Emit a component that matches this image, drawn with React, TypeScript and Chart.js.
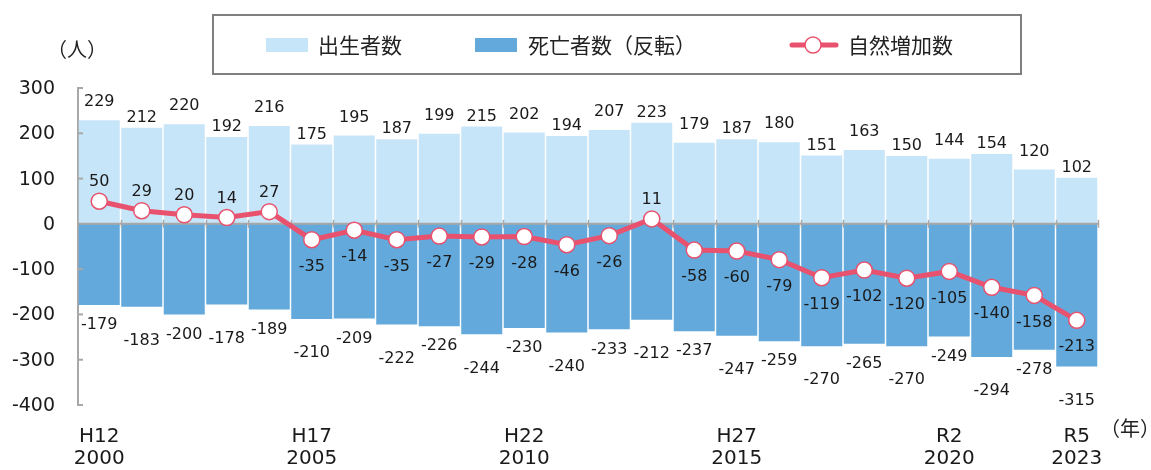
import React, { useEffect, useRef } from "react";
import { Chart, registerables } from "chart.js";

Chart.register(...registerables);

const years = [
  2000, 2001, 2002, 2003, 2004, 2005, 2006, 2007, 2008, 2009, 2010, 2011,
  2012, 2013, 2014, 2015, 2016, 2017, 2018, 2019, 2020, 2021, 2022, 2023,
];
const eraLabels: Record<number, string> = {
  2000: "H12",
  2005: "H17",
  2010: "H22",
  2015: "H27",
  2020: "R2",
  2023: "R5",
};
const births = [
  229, 212, 220, 192, 216, 175, 195, 187, 199, 215, 202, 194, 207, 223, 179,
  187, 180, 151, 163, 150, 144, 154, 120, 102,
];
const deaths = [
  -179, -183, -200, -178, -189, -210, -209, -222, -226, -244, -230, -240, -233,
  -212, -237, -247, -259, -270, -265, -270, -249, -294, -278, -315,
];
const natural = [
  50, 29, 20, 14, 27, -35, -14, -35, -27, -29, -28, -46, -26, 11, -58, -60,
  -79, -119, -102, -120, -105, -140, -158, -213,
];
const legendNames = ["出生者数", "死亡者数（反転）", "自然増加数"];
const unitY = "（人）";
const unitX = "（年）";

const FONT_CJK = '"Noto Sans CJK JP", "Noto Sans", sans-serif';
const FONT_NUM = '"DejaVu Sans", "Noto Sans CJK JP", sans-serif';
const C_BIRTH = "#C7E5F8";
const C_DEATH = "#63A9DC";
const C_LINE = "#E8526E";
const C_AXIS = "#A8A8A8";
const C_TEXT = "#1a1a1a";

const xLabels = years.map((y) => (eraLabels[y] ? [eraLabels[y], String(y)] : ""));

const decorPlugin = {
  id: "decor",
  beforeDatasetDraw(chart: any, args: any) {
    if (args.index !== 2) return;
    const { ctx, chartArea } = chart;
    const y = chart.scales.y;
    ctx.save();
    ctx.strokeStyle = C_AXIS;
    ctx.lineWidth = 2;
    const y0 = y.getPixelForValue(0);
    ctx.beginPath();
    ctx.moveTo(chartArea.left, y0);
    ctx.lineTo(chartArea.right + 1, y0);
    ctx.stroke();
    const n = years.length;
    const w = (chartArea.right - chartArea.left) / n;
    ctx.lineWidth = 1.5;
    for (let i = 1; i <= n; i++) {
      const xb = Math.round(chartArea.left + i * w) + 0.5;
      ctx.beginPath();
      ctx.moveTo(xb, y0 - 4);
      ctx.lineTo(xb, y0 + 4);
      ctx.stroke();
    }
    ctx.lineWidth = 2;
    y.ticks.forEach((t: any) => {
      if (t.value === 0) return;
      const py = y.getPixelForValue(t.value);
      ctx.beginPath();
      ctx.moveTo(chartArea.left, py);
      ctx.lineTo(chartArea.left + 5, py);
      ctx.stroke();
    });
    ctx.restore();
  },
  afterDatasetsDraw(chart: any) {
    const { ctx } = chart;
    ctx.save();
    ctx.font = `16px ${FONT_NUM}`;
    ctx.fillStyle = C_TEXT;
    ctx.textAlign = "center";
    ctx.textBaseline = "middle";
    const mb = chart.getDatasetMeta(0);
    const md = chart.getDatasetMeta(1);
    const ml = chart.getDatasetMeta(2);
    births.forEach((v, i) => {
      const el = mb.data[i];
      const off = i % 2 === 0 ? 18 : 10;
      ctx.fillText(String(v), el.x, el.y - off);
    });
    deaths.forEach((v, i) => {
      const el = md.data[i];
      const off = i % 2 === 0 ? 20 : 34;
      ctx.fillText(String(v), el.x, el.y + off);
    });
    natural.forEach((v, i) => {
      const el = ml.data[i];
      const off = v >= 0 ? -19 : 27;
      ctx.fillText(String(v), el.x, el.y + off);
    });
    ctx.restore();
  },
  afterDraw(chart: any) {
    const { ctx } = chart;
    ctx.save();
    ctx.strokeStyle = "#7f7f7f";
    ctx.lineWidth = 2;
    ctx.strokeRect(213, 15, 808, 59);
    ctx.font = `21px ${FONT_CJK}`;
    ctx.textBaseline = "middle";
    ctx.textAlign = "left";
    const ly = 45;
    ctx.fillStyle = C_BIRTH;
    ctx.fillRect(266, 38, 42, 14);
    ctx.fillStyle = C_DEATH;
    ctx.fillRect(475, 38, 42, 14);
    ctx.strokeStyle = C_LINE;
    ctx.lineWidth = 5;
    ctx.lineCap = "round";
    ctx.beginPath();
    ctx.moveTo(792, ly);
    ctx.lineTo(836, ly);
    ctx.stroke();
    ctx.beginPath();
    ctx.arc(813, ly, 8, 0, Math.PI * 2);
    ctx.fillStyle = "#fff";
    ctx.fill();
    ctx.lineWidth = 1.5;
    ctx.stroke();
    ctx.fillStyle = "#222";
    ctx.fillText(legendNames[0], 318, ly);
    ctx.fillText(legendNames[1], 528, ly);
    ctx.fillText(legendNames[2], 848, ly);
    ctx.font = `20px ${FONT_CJK}`;
    ctx.textAlign = "center";
    ctx.fillText(unitY, 77, 49);
    ctx.fillText(unitX, 1130, 428);
    ctx.restore();
  },
};

export default function App() {
  const ref = useRef<HTMLCanvasElement | null>(null);
  useEffect(() => {
    if (!ref.current) return;
    const chart = new Chart(ref.current, {
      type: "bar",
      data: {
        labels: xLabels as any,
        datasets: [
          {
            type: "bar",
            label: legendNames[0],
            data: births,
            backgroundColor: C_BIRTH,
            barPercentage: 0.965,
            categoryPercentage: 1,
            order: 2,
          },
          {
            type: "bar",
            label: legendNames[1],
            data: deaths,
            backgroundColor: C_DEATH,
            barPercentage: 0.965,
            categoryPercentage: 1,
            order: 1,
          },
          {
            type: "line",
            label: legendNames[2],
            data: natural,
            borderColor: C_LINE,
            borderWidth: 5,
            pointRadius: 8,
            pointBackgroundColor: "#fff",
            pointBorderColor: C_LINE,
            pointBorderWidth: 1.5,
            tension: 0,
            order: 0,
          } as any,
        ],
      },
      options: {
        animation: false,
        responsive: false,
        layout: { padding: { top: 88, right: 53, left: 0, bottom: 0 } },
        plugins: {
          legend: { display: false },
          tooltip: { enabled: false },
        },
        scales: {
          x: {
            stacked: true,
            offset: true,
            grid: { display: false, drawTicks: false },
            border: { display: false },
            ticks: {
              autoSkip: false,
              maxRotation: 0,
              minRotation: 0,
              padding: 21,
              color: C_TEXT,
              font: { family: FONT_NUM, size: 20, lineHeight: 1.1 },
            },
            afterFit(scale: any) {
              scale.height = 65;
            },
          },
          y: {
            stacked: false,
            min: -400,
            max: 300,
            ticks: {
              stepSize: 100,
              padding: 23,
              labelOffset: 1,
              color: C_TEXT,
              font: { family: FONT_NUM, size: 19 },
            },
            grid: { display: false, drawTicks: false },
            border: { display: true, color: C_AXIS, width: 2 },
            afterFit(scale: any) {
              scale.width = 78;
            },
          },
        },
      },
      plugins: [decorPlugin],
    });
    return () => chart.destroy();
  }, []);
  return (
    <div style={{ position: "absolute", left: 0, top: 0, width: 1151, height: 470, background: "#fff" }}>
      <canvas ref={ref} width={1151} height={470} style={{ display: "block" }} />
    </div>
  );
}
